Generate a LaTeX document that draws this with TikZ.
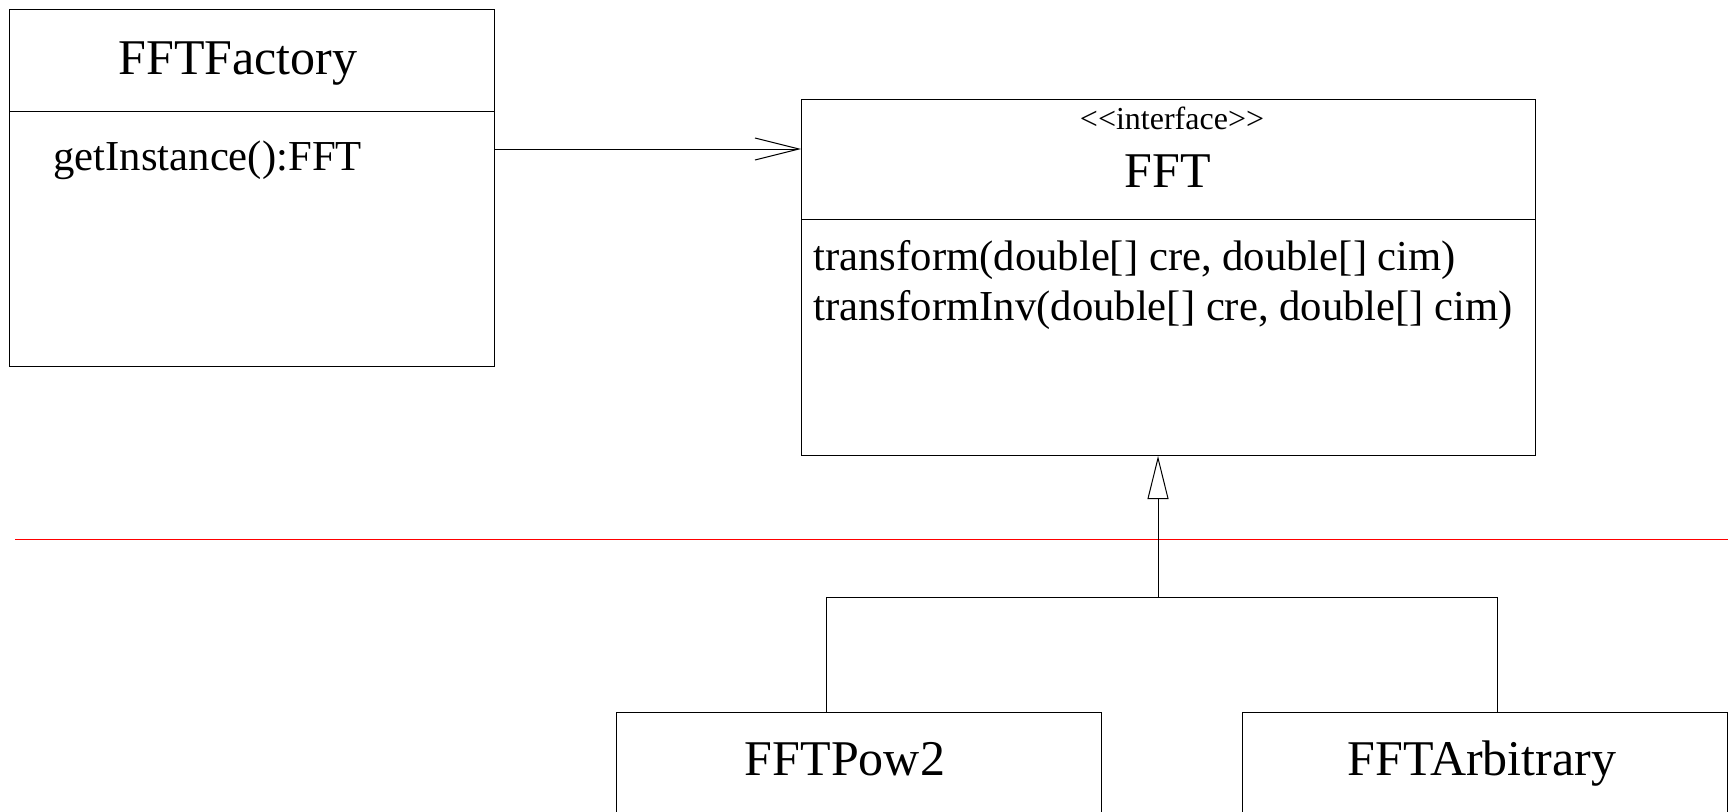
\documentclass[tikz,border=0pt]{standalone}
\usepackage{fontspec}
\setmainfont{Liberation Serif}
\usetikzlibrary{arrows.meta}
\begin{document}
\begin{tikzpicture}[x=1pt, y=-1pt, line width=1pt,
  classbox/.style={shape=rectangle, draw=black, anchor=north west, inner sep=0pt, minimum width=485pt},
  title/.style={anchor=base, inner sep=0pt, font=\fontsize{50}{60}\selectfont},
  stereo/.style={anchor=base, inner sep=0pt, font=\fontsize{32}{38}\selectfont},
  method/.style={anchor=base west, inner sep=0pt, font=\fontsize{42.7}{50}\selectfont},
  assoc/.style={-{Straight Barb[length=44pt, width=22pt]}},
  inherit/.style={-{Triangle[open, length=43pt, width=21pt, fill=white]}}]
\useasboundingbox (0,0) rectangle (1728,811);
% classes
\node[classbox, minimum height=357pt] (factory) at (9,9) {};
\node[classbox, minimum width=734pt, minimum height=356pt] (fft) at (801,99) {};
\node[classbox, minimum height=200pt] (pow2) at (616,712) {};
\node[classbox, minimum height=200pt] (arb) at (1242,712) {};
\draw ([yshift=-102pt]factory.north west) -- ([yshift=-102pt]factory.north east);
\draw ([yshift=-120pt]fft.north west) -- ([yshift=-120pt]fft.north east);
% texts
\node[title] (factoryname) at (238,74) {FFTFactory};
\node[method] (getinst) at (53,170) {getInstance():FFT};
\node[stereo] (fftstereo) at (1172,129) {<{}<interface>{}>};
\node[title] (fftname) at (1168,187) {FFT};
\node[method] (trans) at (813,270) {transform(double[] cre, double[] cim)};
\node[method] (transinv) at (813,320) {transformInv(double[] cre, double[] cim)};
\node[title] (pow2name) at (845,775) {FFTPow2};
\node[title] (arbname) at (1482,775) {FFTArbitrary};
% separator
\coordinate (sepL) at (15,539);
\coordinate (sepR) at (1728,539);
\draw[red] (sepL) -- (sepR);
% connectors
\draw[assoc] ([yshift=-140pt]factory.north east) -- ([yshift=-50pt]fft.north west);
\coordinate (join) at (1158,597);
\coordinate (joinL) at (826,597);
\coordinate (joinR) at (1497,597);
\draw (pow2.north -| joinL) -- (joinL) -- (joinR) -- (arb.north -| joinR);
\draw[inherit] (join) -- (join |- fft.south);
\end{tikzpicture}
\end{document}
